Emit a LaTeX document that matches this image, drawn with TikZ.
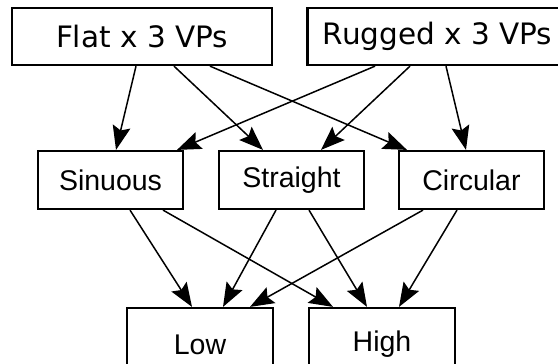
\documentclass[tikz,border=0pt]{standalone}
\usepackage{fontspec}
\newfontfamily\vpfont{DejaVu Sans}
\newfontfamily\lblfont{Liberation Sans}
\usetikzlibrary{arrows.meta}

\begin{document}
\begin{tikzpicture}[x=1pt, y=-1pt,
    site/.style={draw, line width=2.3pt, minimum width=260pt,
                 minimum height=57pt, inner sep=0pt,
                 font=\vpfont\fontsize{29.5}{34}\selectfont},
    form/.style={draw, line width=2.2pt, minimum width=145pt,
                 minimum height=58pt, inner sep=0pt,
                 font=\lblfont\fontsize{28.5}{34}\selectfont},
    level/.style={form, minimum width=146pt, minimum height=73pt},
    link/.style={-{Stealth[length=24pt, width=18pt, inset=4pt]}, line width=1.5pt},
  ]
  \useasboundingbox (0,0) rectangle (558,364);
  \clip (0,0) rectangle (558,364);
  % terrain x viewpoints
  \node[site] (flat) at (142,36.5) {Flat x 3 VPs};
  \node[site] (rugged) at (437.5,36.5) {Rugged x 3 VPs};
  % path shapes
  \node[form] (sinuous) at (110.5,180) {Sinuous};
  \node[form] (straight) at (291.5,180) {Straight};
  \node[form] (circular) at (471.5,180) {Circular};
  % levels
  \node[level] (low) at (200,344.5) {Low};
  \node[level] (high) at (382,344.5) {High};

  \draw[link] ([xshift=-6pt]flat.south) -- ([xshift=5.5pt]sinuous.north);
  \draw[link] ([xshift=32pt]flat.south) -- ([xshift=-28.5pt]straight.north);
  \draw[link] ([xshift=68pt]flat.south) -- ([xshift=-64.5pt]circular.north);
  \draw[link] ([xshift=-62.5pt]rugged.south) -- ([xshift=66.5pt]sinuous.north);
  \draw[link] ([xshift=-27.5pt]rugged.south) -- ([xshift=29.5pt]straight.north);
  \draw[link] ([xshift=8.5pt]rugged.south) -- ([xshift=-5.5pt]circular.north);

  \draw[link] ([xshift=19.5pt]sinuous.south) -- ([xshift=-8pt]low.north);
  \draw[link] ([xshift=52.5pt]sinuous.south) -- ([xshift=-49pt]high.north);
  \draw[link] ([xshift=-15.5pt]straight.south) -- ([xshift=23pt]low.north);
  \draw[link] ([xshift=17.5pt]straight.south) -- ([xshift=-15pt]high.north);
  \draw[link] ([xshift=-48.5pt]circular.south) -- ([xshift=50pt]low.north);
  \draw[link] ([xshift=-14.5pt]circular.south) -- ([xshift=17pt]high.north);
\end{tikzpicture}
\end{document}
